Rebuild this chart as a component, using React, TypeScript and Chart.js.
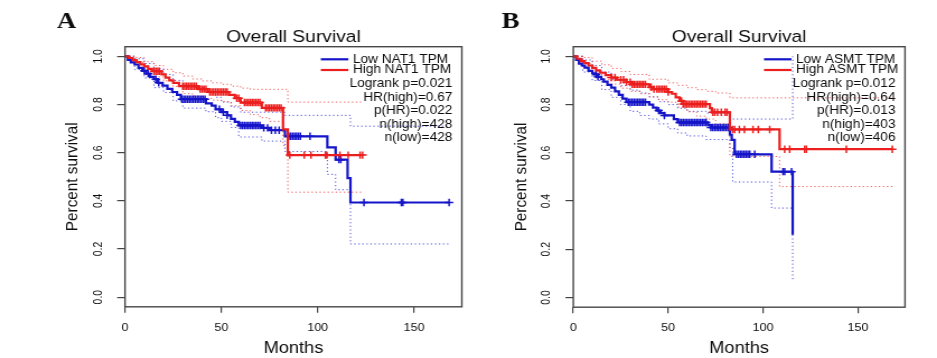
import { useEffect, useRef } from "react";
import { Chart, registerables } from "chart.js";

Chart.register(...registerables);

// ---------- tick labels ----------
const monthTicks = [0, 50, 100, 150];
const survivalTicks = [0, 0.2, 0.4, 0.6, 0.8, 1.0];

// ---------- Panel A : NAT1 ----------
const aLowT = [0, 1.5, 3, 5, 7, 9, 11, 13, 15, 17, 19.5, 22, 24.5, 27, 29, 42, 45, 47, 50, 53, 55, 57, 59, 71, 75, 83, 105, 109.3, 115.5, 117, 168.2];
const aLowS = [1, 0.985, 0.975, 0.966, 0.952, 0.94, 0.928, 0.915, 0.905, 0.89, 0.878, 0.865, 0.852, 0.84, 0.822, 0.805, 0.795, 0.78, 0.768, 0.755, 0.74, 0.728, 0.713, 0.703, 0.693, 0.668, 0.622, 0.571, 0.494, 0.393, 0.393];
const aHighT = [0, 2, 4, 6, 8, 10, 12, 14, 19, 21, 23, 25, 28, 38, 43, 54, 57, 60, 71, 82, 84.5, 123.3];
const aHighS = [1, 0.993, 0.984, 0.976, 0.967, 0.958, 0.948, 0.938, 0.925, 0.912, 0.9, 0.89, 0.876, 0.864, 0.852, 0.84, 0.826, 0.808, 0.786, 0.697, 0.59, 0.59];
const aLowUpT = [0, 5, 10, 15, 20, 25, 30, 42, 47, 50, 55, 60, 83, 117, 168.2];
const aLowUpS = [1, 0.99, 0.97, 0.948, 0.925, 0.9, 0.87, 0.852, 0.83, 0.81, 0.79, 0.768, 0.755, 0.71, 0.71];
const aLowLoT = [0, 5, 10, 15, 20, 25, 30, 42, 47, 50, 55, 59, 71, 83, 105, 109.3, 117, 168.2];
const aLowLoS = [1, 0.945, 0.91, 0.87, 0.85, 0.815, 0.785, 0.77, 0.745, 0.73, 0.705, 0.665, 0.648, 0.605, 0.51, 0.446, 0.221, 0.221];
const aHighUpT = [0, 5, 10, 15, 20, 25, 30, 35, 40, 45, 50, 55, 60, 65, 84.5, 123.3];
const aHighUpS = [1, 0.995, 0.978, 0.962, 0.946, 0.932, 0.918, 0.906, 0.898, 0.89, 0.884, 0.876, 0.868, 0.863, 0.81, 0.81];
const aHighLoT = [0, 5, 10, 15, 20, 25, 30, 35, 40, 45, 50, 55, 60, 65, 70, 75, 82, 84.5, 123.3];
const aHighLoS = [1, 0.975, 0.945, 0.915, 0.898, 0.875, 0.845, 0.835, 0.825, 0.818, 0.812, 0.795, 0.775, 0.758, 0.745, 0.73, 0.63, 0.436, 0.436];
const aHighCens = [15, 16, 17, 17.8, 30, 31, 32, 33, 34, 35, 36, 37, 39, 40, 41, 42, 44, 45, 46, 47, 48, 49, 50, 51, 52, 53, 58, 59, 62, 63, 64, 65, 66, 67, 68, 69, 70, 73, 74, 75, 76, 77, 78, 79, 80, 81, 85.5, 93, 96.5, 104, 104.7, 111.5, 115.8, 122, 123.3];
const aLowCens = [10, 12, 16, 17.5, 29.5, 30.5, 31.5, 32.5, 33.5, 34.5, 35.5, 36.5, 37.5, 38.5, 39.5, 40.5, 41.5, 49, 51, 53, 60, 61, 62, 63, 64, 65, 66, 67, 68, 69, 70, 72, 74, 76, 78, 80, 85, 86, 87, 88, 89, 90, 91, 96, 111, 112, 124, 143.4, 144.2, 168.2];
const aLegend = ["Low NAT1 TPM", "High NAT1 TPM"];
const aStats = ["Logrank p=0.021", "HR(high)=0.67", "p(HR)=0.022", "n(high)=428", "n(low)=428"];

// ---------- Panel B : ASMT ----------
const bLowT = [0, 1.5, 3, 4.5, 6, 8, 10, 11.2, 13, 14.7, 16, 18, 20, 22, 24, 26, 28, 40, 42, 44, 46, 48, 53, 55, 71, 72.5, 82.5, 83.5, 85, 104.5, 115.6];
const bLowS = [1, 0.985, 0.97, 0.962, 0.953, 0.94, 0.93, 0.925, 0.915, 0.905, 0.895, 0.882, 0.87, 0.855, 0.84, 0.825, 0.81, 0.8, 0.787, 0.775, 0.765, 0.755, 0.74, 0.726, 0.715, 0.705, 0.675, 0.654, 0.594, 0.522, 0.26];
const bHighT = [0, 2, 4, 6, 8, 10, 12, 14, 17, 20, 23, 28, 31, 40, 42, 50, 52, 54, 56, 58, 72, 73, 82.5, 108.7, 168.4];
const bHighS = [1, 0.99, 0.98, 0.972, 0.962, 0.952, 0.942, 0.932, 0.922, 0.912, 0.903, 0.893, 0.884, 0.872, 0.864, 0.852, 0.845, 0.83, 0.815, 0.802, 0.785, 0.768, 0.697, 0.615, 0.615];
const bLowUpT = [0, 5, 10, 15, 20, 25, 30, 35, 40, 45, 50, 55, 60, 70, 82.5, 115.6];
const bLowUpS = [1, 0.985, 0.962, 0.935, 0.905, 0.878, 0.86, 0.848, 0.832, 0.812, 0.8, 0.785, 0.772, 0.765, 0.74, 1.0];
const bLowLoT = [0, 5, 10, 15, 20, 25, 30, 35, 40, 45, 50, 55, 60, 70, 82.5, 84, 104.5, 115.6];
const bLowLoS = [1, 0.935, 0.9, 0.862, 0.83, 0.8, 0.772, 0.755, 0.74, 0.72, 0.7, 0.682, 0.67, 0.655, 0.62, 0.479, 0.371, 0.07];
const bHighUpT = [0, 5, 10, 15, 20, 25, 30, 40, 50, 55, 60, 65, 70, 75, 82.5, 168.4];
const bHighUpS = [1, 0.995, 0.98, 0.965, 0.95, 0.937, 0.925, 0.905, 0.89, 0.88, 0.87, 0.862, 0.855, 0.848, 0.828, 0.828];
const bHighLoT = [0, 5, 10, 15, 20, 25, 30, 35, 40, 45, 50, 55, 60, 65, 70, 75, 82.5, 108.7, 168.4];
const bHighLoS = [1, 0.97, 0.935, 0.905, 0.885, 0.868, 0.855, 0.845, 0.832, 0.82, 0.81, 0.79, 0.77, 0.752, 0.74, 0.72, 0.585, 0.46, 0.46];
const bHighCens = [20, 22, 25, 26.5, 28, 30, 31, 32, 33, 34, 35, 36, 37, 38, 41, 42.5, 44, 45, 46, 47, 48, 49, 50, 57, 58, 59, 60, 61, 62, 63, 64, 65, 66, 67, 68, 69, 70, 73.5, 74.5, 76, 78, 80, 81, 84, 85, 87.5, 90.2, 94.7, 97.5, 103.5, 111.4, 114, 121.9, 122.8, 143.9, 168.1];
const bLowCens = [12, 13, 29, 30, 31, 32, 33, 34, 35, 36, 37, 38, 45, 48, 56, 57, 58, 59, 60, 61, 62, 63, 64, 65, 66, 67, 68, 69, 70, 72.5, 73.5, 74.5, 75.5, 76.5, 77.5, 78.5, 79.5, 80.5, 81.5, 86, 87, 88, 89, 90, 91, 92, 93, 95.6, 110.5, 111.4, 115];
const bLegend = ["Low ASMT TPM", "High ASMT TPM"];
const bStats = ["Logrank p=0.012", "HR(high)=0.64", "p(HR)=0.013", "n(high)=403", "n(low)=406"];

// ---------- styling / layout ----------
const FONT = '"Liberation Sans", Arial, Helvetica, sans-serif';
const SERIF = '"Liberation Serif", "Times New Roman", Times, serif';
const BLUE = "#1414c8";
const RED = "#ec1e1e";
const BLUE_CI = "rgba(60,60,215,0.9)";
const RED_CI = "rgba(238,70,70,0.9)";
const TEXT = "#0d0d0d";
const H = 358;

type Panel = {
  letter: string;
  cssLeft: number;
  cssWidth: number;
  intWidth: number;
  plotLeft: number;
  plotRight: number;
  plotTop: number;
  plotBottom: number;
  letterX: number;
  xMax: number;
  lowT: number[]; lowS: number[]; highT: number[]; highS: number[];
  lowUpT: number[]; lowUpS: number[]; lowLoT: number[]; lowLoS: number[];
  highUpT: number[]; highUpS: number[]; highLoT: number[]; highLoS: number[];
  lowCens: number[]; highCens: number[];
  legend: string[]; stats: string[];
};

const panelA: Panel = {
  letter: "A", cssLeft: 0, cssWidth: 468, intWidth: 418,
  plotLeft: 125, plotRight: 466, plotTop: 46.7, plotBottom: 306.8, letterX: 56.7, xMax: 174.8,
  lowT: aLowT, lowS: aLowS, highT: aHighT, highS: aHighS,
  lowUpT: aLowUpT, lowUpS: aLowUpS, lowLoT: aLowLoT, lowLoS: aLowLoS,
  highUpT: aHighUpT, highUpS: aHighUpS, highLoT: aHighLoT, highLoS: aHighLoS,
  lowCens: aLowCens, highCens: aHighCens, legend: aLegend, stats: aStats,
};

const panelB: Panel = {
  letter: "B", cssLeft: 468, cssWidth: 469, intWidth: 419,
  plotLeft: 105.3, plotRight: 437, plotTop: 46.7, plotBottom: 307.2, letterX: 33.7, xMax: 174.8,
  lowT: bLowT, lowS: bLowS, highT: bHighT, highS: bHighS,
  lowUpT: bLowUpT, lowUpS: bLowUpS, lowLoT: bLowLoT, lowLoS: bLowLoS,
  highUpT: bHighUpT, highUpS: bHighUpS, highLoT: bHighLoT, highLoS: bHighLoS,
  lowCens: bLowCens, highCens: bHighCens, legend: bLegend, stats: bStats,
};

function toPoints(t: number[], s: number[]) {
  return t.map((x, i) => ({ x, y: s[i] }));
}

function survivalAt(t: number[], s: number[], time: number) {
  let v = s[0];
  for (let i = 0; i < t.length; i++) if (t[i] <= time) v = s[i];
  return v;
}

function censorPoints(t: number[], s: number[], cens: number[]) {
  return cens.map((c) => ({ x: c, y: survivalAt(t, s, c) }));
}

function makeChart(canvas: HTMLCanvasElement, p: Panel) {
  const S = p.cssWidth / p.intWidth;
  const left = p.plotLeft / S;
  const right = p.plotRight / S;

  const curve = (data: any[], color: string) => ({
    data, borderColor: color, borderWidth: 2.2, stepped: "before", pointRadius: 0, fill: false,
  });
  const ci = (data: any[], color: string) => ({
    data, borderColor: color, borderWidth: 1, borderDash: [1.2, 2.4], stepped: "before", pointRadius: 0, fill: false,
  });
  const cens = (data: any[], color: string) => ({
    data, showLine: false, pointStyle: "cross", pointRadius: 3.7, pointBorderWidth: 1.5,
    pointBorderColor: color, pointBackgroundColor: color, borderColor: color,
  });

  const datasets = [
    cens(censorPoints(p.highT, p.highS, p.highCens), RED),
    curve(toPoints(p.highT, p.highS), RED),
    cens(censorPoints(p.lowT, p.lowS, p.lowCens), BLUE),
    curve(toPoints(p.lowT, p.lowS), BLUE),
    ci(toPoints(p.highUpT, p.highUpS), RED_CI),
    ci(toPoints(p.highLoT, p.highLoS), RED_CI),
    ci(toPoints(p.lowUpT, p.lowUpS), BLUE_CI),
    ci(toPoints(p.lowLoT, p.lowLoS), BLUE_CI),
  ];

  const decor = {
    id: "decor",
    afterDraw(chart: any) {
      const ctx = chart.ctx as CanvasRenderingContext2D;
      const a = chart.chartArea;
      ctx.save();
      // frame
      ctx.strokeStyle = "#474747";
      ctx.lineWidth = 1.4;
      ctx.strokeRect(a.left, a.top, a.right - a.left, a.bottom - a.top);
      ctx.fillStyle = TEXT;
      // panel letter
      ctx.font = `bold 24px ${SERIF}`;
      ctx.textAlign = "left";
      ctx.textBaseline = "alphabetic";
      ctx.fillText(p.letter, p.letterX / S, 28.3);
      // title
      const cx = (a.left + a.right) / 2;
      ctx.font = `17.2px ${FONT}`;
      ctx.textAlign = "center";
      ctx.fillText("Overall Survival", cx, 41.7);
      // x title
      ctx.font = `16.3px ${FONT}`;
      ctx.fillText("Months", cx, 352.6);
      // y title
      ctx.save();
      ctx.translate(a.left - 52 / S, (a.top + a.bottom) / 2);
      ctx.rotate(-Math.PI / 2);
      ctx.textBaseline = "middle";
      ctx.font = `15.3px ${FONT}`;
      ctx.fillText("Percent survival", 0, 0);
      ctx.restore();
      // legend
      const rows1 = [59.3, 70.0];
      const colors = [BLUE, RED];
      ctx.font = `12.2px ${FONT}`;
      ctx.textBaseline = "middle";
      ctx.lineWidth = 2.2;
      rows1.forEach((y, i) => {
        ctx.strokeStyle = colors[i];
        ctx.beginPath();
        ctx.moveTo(a.right - 141 / S, y);
        ctx.lineTo(a.right - 113.5 / S, y);
        ctx.stroke();
        ctx.textAlign = "left";
        ctx.fillText(p.legend[i], a.right - 109 / S, y);
      });
      const rows2 = [83.3, 97.2, 110.6, 124.3, 137.2];
      ctx.textAlign = "right";
      rows2.forEach((y, i) => ctx.fillText(p.stats[i], a.right - 9.5 / S, y));
      ctx.restore();
    },
  };

  return new Chart(canvas, {
    type: "line",
    data: { datasets: datasets as any },
    plugins: [decor],
    options: {
      responsive: false,
      maintainAspectRatio: false,
      animation: false,
      devicePixelRatio: 1,
      events: [],
      layout: { padding: { left: 0, right: p.intWidth - right, top: p.plotTop, bottom: 0 } },
      plugins: { legend: { display: false }, tooltip: { enabled: false }, title: { display: false } },
      scales: {
        x: {
          type: "linear",
          min: 0,
          max: p.xMax,
          afterBuildTicks: (s: any) => { s.ticks = monthTicks.map((v) => ({ value: v })); },
          afterFit: (s: any) => { s.height = H - p.plotBottom; },
          grid: { display: true, drawOnChartArea: false, drawTicks: true, tickLength: 6, color: "#444", lineWidth: 1.2 },
          border: { display: false },
          ticks: {
            font: { family: FONT, size: 11.2 }, color: TEXT, padding: 8,
            maxRotation: 0, minRotation: 0, autoSkip: false,
            callback: (v: any) => String(v),
          },
        },
        y: {
          type: "linear",
          min: -0.04,
          max: 1.04,
          afterBuildTicks: (s: any) => { s.ticks = survivalTicks.map((v) => ({ value: v })); },
          afterFit: (s: any) => { s.width = left; },
          grid: { display: true, drawOnChartArea: false, drawTicks: true, tickLength: 7, color: "#444", lineWidth: 1.2 },
          border: { display: false },
          ticks: {
            font: { family: FONT, size: 10.4 }, color: TEXT, padding: 9.5,
            minRotation: 90, maxRotation: 90, crossAlign: "center", autoSkip: false,
            callback: (v: any) => Number(v).toFixed(1),
          },
        },
      },
    } as any,
  });
}

export default function App() {
  const refA = useRef<HTMLCanvasElement>(null);
  const refB = useRef<HTMLCanvasElement>(null);

  useEffect(() => {
    const charts = [makeChart(refA.current!, panelA), makeChart(refB.current!, panelB)];
    return () => charts.forEach((c) => c.destroy());
  }, []);

  return (
    <div style={{ position: "absolute", left: 0, top: 0, width: 937, height: H, background: "#fff", overflow: "hidden" }}>
      <canvas
        ref={refA}
        width={panelA.intWidth}
        height={H}
        style={{ position: "absolute", left: panelA.cssLeft, top: 0, width: panelA.cssWidth, height: H }}
      />
      <canvas
        ref={refB}
        width={panelB.intWidth}
        height={H}
        style={{ position: "absolute", left: panelB.cssLeft, top: 0, width: panelB.cssWidth, height: H }}
      />
    </div>
  );
}
